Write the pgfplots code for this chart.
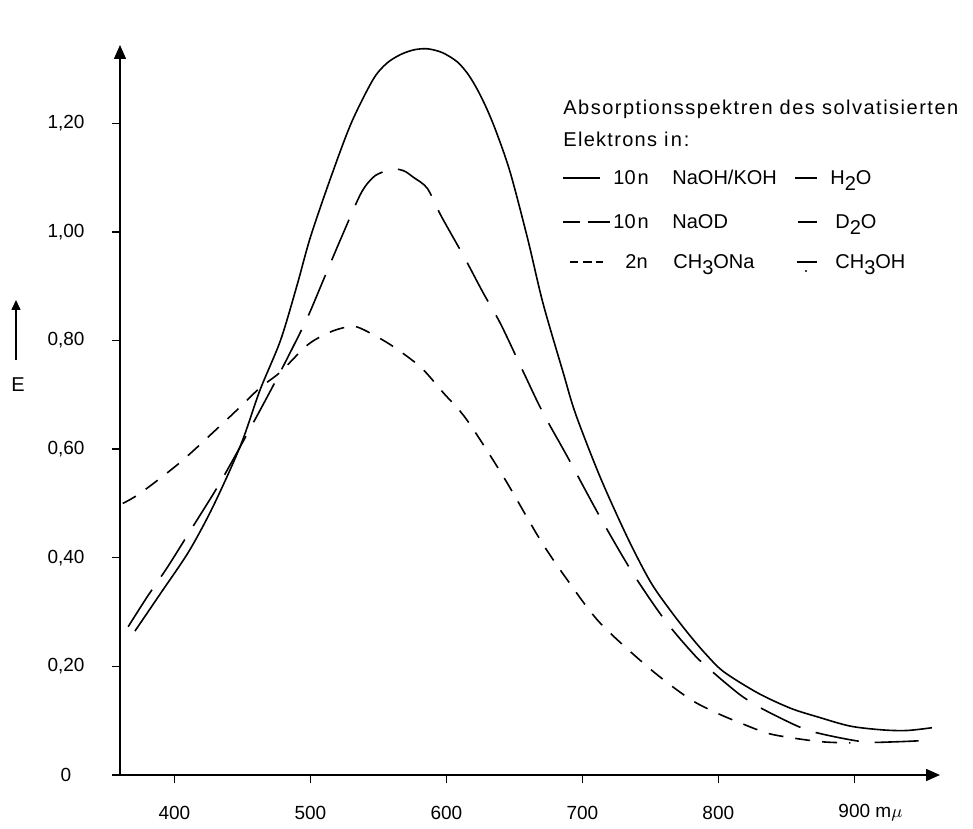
\documentclass[border=0pt]{standalone}
\usepackage{fontspec}
\setmainfont{Liberation Sans}
\usepackage{pgfplots}
\pgfplotsset{compat=1.18}
\usetikzlibrary{arrows.meta}

\begin{document}
\begin{tikzpicture}
\begin{axis}[
  scale only axis,
  width=410pt, height=365pt,
  xmin=360, xmax=963, ymin=0, ymax=1.344,
  axis lines=left,
  axis line style={line width=0.8pt, -{Triangle[length=7pt,width=6pt]}},
  tick align=outside,
  major tick length=4pt,
  tick style={line width=0.7pt, black},
  xtick={400,500,600,700,800,900},
  xticklabels={400,500,600,700,800,{900\rlap{ m$\mu$}}},
  ytick={0,0.2,0.4,0.6,0.8,1.0,1.2},
  yticklabels={0,{0,20},{0,40},{0,60},{0,80},{1,00},{1,20}},
  ticklabel style={font=\fontsize{9.5}{11}\selectfont},
  yticklabel style={anchor=center, xshift=-23pt},
  xticklabel style={anchor=center, yshift=-15pt},
  clip=false,
]
% 10 n NaOH/KOH in H2O (solid)
\addplot[black, line width=0.8pt, smooth, tension=0.5] coordinates {
(371,0.265) (390,0.335) (410,0.409) (426,0.482) (441,0.562) (451,0.622)
(463,0.709) (478,0.800) (490,0.900) (500,0.990) (515,1.100) (530,1.200)
(546,1.280) (556,1.310) (566,1.326) (576,1.335) (586,1.337) (597,1.330)
(608,1.313) (616,1.290) (623,1.261) (630,1.225) (637,1.182) (647,1.109)
(660,0.985) (671,0.869) (686,0.740) (695,0.665) (713,0.549) (733,0.438)
(750,0.356) (765,0.302) (779,0.257) (791,0.222) (804,0.190) (829,0.151)
(853,0.123) (873,0.107) (897,0.090) (921,0.083) (939,0.082) (957,0.087)
};
% 10 n NaOD in D2O (long dash)
\addplot[black, line width=0.8pt, smooth, tension=0.5, dash pattern=on 22pt off 8pt] coordinates {
(366,0.273) (380,0.328) (395,0.383) (412,0.451) (429,0.519) (439,0.562)
(454,0.630) (471,0.709) (485,0.777) (498,0.843) (510,0.914) (522,0.985)
(537,1.070) (546,1.100) (553,1.110) (561,1.116) (569,1.112) (576,1.100)
(586,1.080) (596,1.030) (613,0.954) (627,0.888) (640,0.830) (657,0.740)
(671,0.667) (689,0.586) (713,0.475) (737,0.372) (761,0.284) (782,0.222)
(793,0.196) (805,0.170) (818,0.144) (833,0.121) (860,0.088) (877,0.075)
(907,0.061) (929,0.061) (956,0.064)
};
% 2 n CH3ONa in CH3OH (short dash)
\addplot[black, line width=0.8pt, smooth, tension=0.5, dash pattern=on 7.5pt off 6pt] coordinates {
(362,0.500) (375,0.519) (404,0.575) (432,0.639) (446,0.672) (463,0.713)
(478,0.742) (498,0.792) (515,0.816) (530,0.826) (539,0.820) (559,0.792)
(581,0.751) (598,0.703) (615,0.654) (642,0.549) (669,0.433) (689,0.359)
(713,0.280) (750,0.195) (779,0.140) (799,0.114) (816,0.096) (836,0.077)
(855,0.068) (877,0.061) (897,0.059)
};
\coordinate (O) at (rel axis cs:0,0);
\end{axis}

\begin{scope}[shift={(O)}, x=0.5pt, y=-0.5pt, font=\fontsize{10}{12}\selectfont]
\path ({0-120},{0-775}) rectangle ({973-120},{819-775});
% y label
\draw[line width=0.7pt, -{Triangle[length=5pt,width=4.5pt]}] ({16-120},{360-775}) -- ({16-120},{300-775});
\node at ({18-120},{385-775}) {E};
% legend
\node[anchor=base west, inner sep=0pt] at ({563-120},{115-775}) {\addfontfeature{LetterSpace=7.5}Absorptionsspektren des solvatisierten};
\node[anchor=base west, inner sep=0pt] at ({563-120},{147-775}) {\addfontfeature{LetterSpace=6.5}Elektrons i\kern1.2pt n\kern1pt:};
% row 1
\draw[line width=0.7pt] ({563-120},{178-775}) -- ({600-120},{178-775});
\node[anchor=base west, inner sep=0pt] at ({613-120},{185-775}) {10\kern1pt n};
\node[anchor=base west, inner sep=0pt] at ({672-120},{185-775}) {NaOH/KOH};
\draw[line width=0.7pt] ({795-120},{178-775}) -- ({817-120},{178-775});
\node[anchor=base west, inner sep=0pt] at ({830-120},{185-775}) {H\raisebox{-0.5ex}{2}O};
% row 2
\draw[line width=0.7pt] ({563-120},{222-775}) -- ({580-120},{222-775});
\draw[line width=0.7pt] ({588-120},{222-775}) -- ({610-120},{222-775});
\node[anchor=base west, inner sep=0pt] at ({613-120},{229-775}) {10\kern1pt n};
\node[anchor=base west, inner sep=0pt] at ({672-120},{229-775}) {NaOD};
\draw[line width=0.7pt] ({798-120},{222-775}) -- ({817-120},{222-775});
\node[anchor=base west, inner sep=0pt] at ({835-120},{229-775}) {D\raisebox{-0.5ex}{2}O};
% row 3
\draw[line width=0.6pt] ({570-120},{262-775}) -- ({578-120},{262-775});
\draw[line width=0.6pt] ({583-120},{262-775}) -- ({592-120},{262-775});
\draw[line width=0.6pt] ({596-120},{262-775}) -- ({603-120},{262-775});
\node[anchor=base west, inner sep=0pt] at ({625-120},{269-775}) {2n};
\node[anchor=base west, inner sep=0pt] at ({673-120},{269-775}) {CH\raisebox{-0.5ex}{3}ONa};
\draw[line width=0.7pt] ({797-120},{262-775}) -- ({817-120},{262-775});
\fill ({806-120},{271-775}) circle (1.2);
\node[anchor=base west, inner sep=0pt] at ({835-120},{269-775}) {CH\raisebox{-0.5ex}{3}OH};
\end{scope}
\end{tikzpicture}
\end{document}
